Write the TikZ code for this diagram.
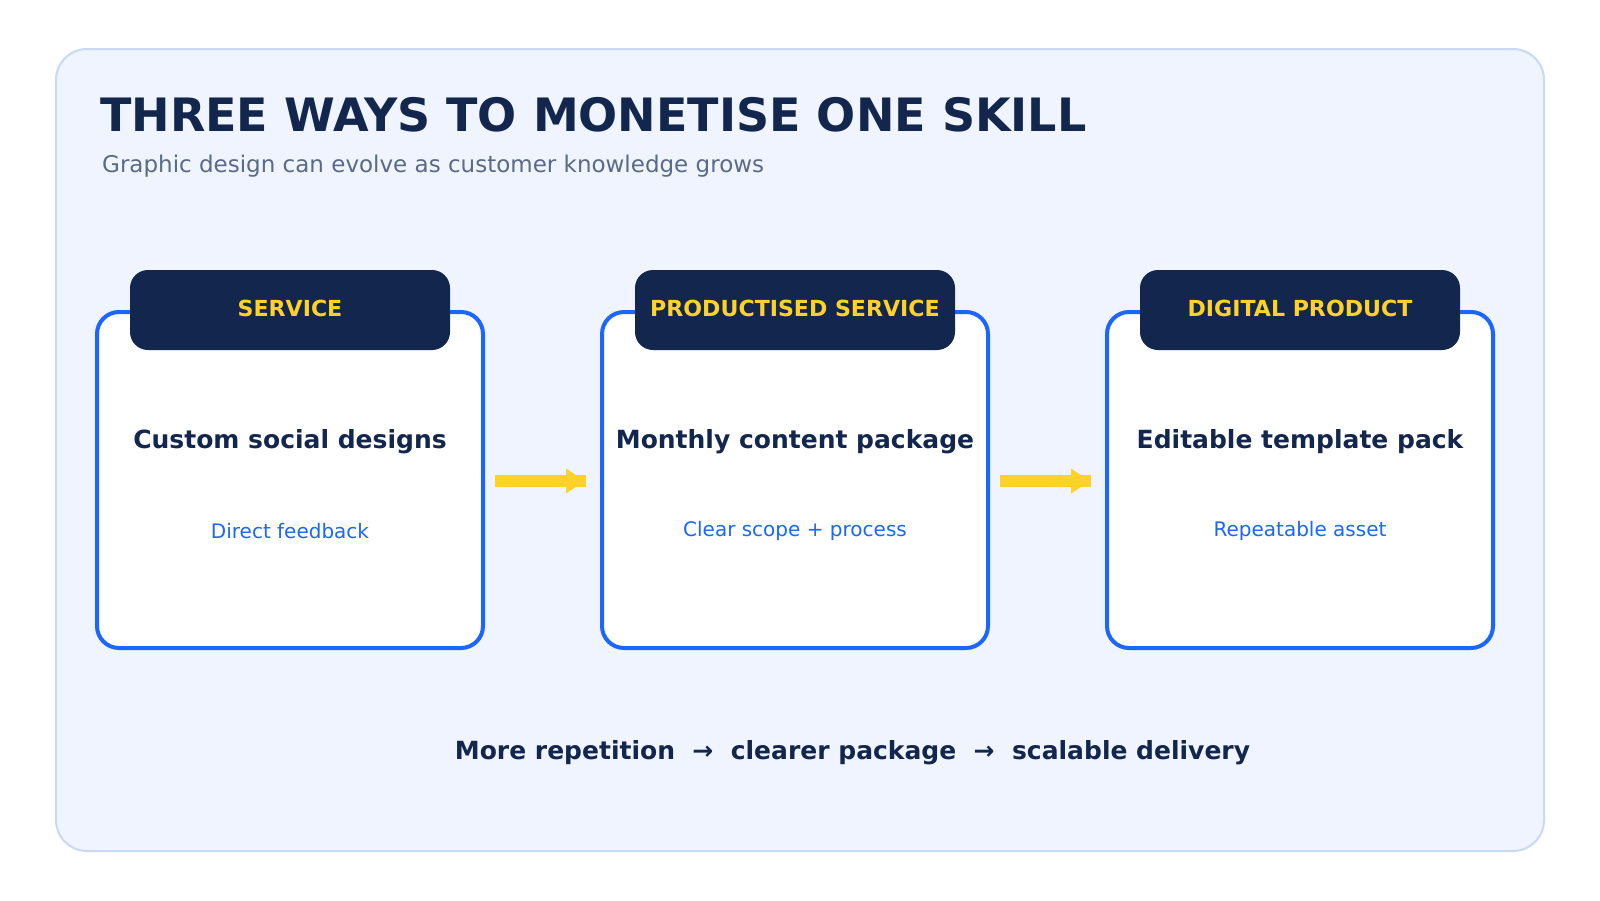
\documentclass[tikz,border=0pt]{standalone}
\usepackage{fontspec}
\setmainfont{DejaVu Sans}
\usetikzlibrary{arrows.meta}
\definecolor{navy}{RGB}{19,38,77}
\definecolor{gold}{RGB}{255,210,40}
\definecolor{cardblue}{RGB}{26,102,255}
\definecolor{panelfill}{RGB}{239,244,255}
\definecolor{panelline}{RGB}{200,216,245}
\definecolor{subgray}{RGB}{90,106,135}
\tikzset{
  cardbox/.style={draw=cardblue, line width=4pt, fill=white, rounded corners=22pt,
    minimum width=386pt, minimum height=336pt, outer sep=0pt, inner sep=0pt},
  headbox/.style={fill=navy, rounded corners=18pt, minimum width=320pt, minimum height=80pt,
    outer sep=0pt, inner sep=0pt},
  headtext/.style={anchor=base, text=gold, font=\fontsize{22.1}{27}\selectfont\bfseries, inner sep=0pt},
  cardtitle/.style={anchor=base, text=navy, font=\fontsize{25}{30}\selectfont\bfseries, inner sep=0pt},
  cardnote/.style={anchor=base, text=cardblue, font=\fontsize{20}{24}\selectfont, inner sep=0pt},
  flowshaft/.style={draw=gold, line width=12pt},
  flowhead/.style={fill=gold},
}
\begin{document}
\begin{tikzpicture}[x=1pt,y=-1pt]
\useasboundingbox (0,0) rectangle (1600,900);
\fill[white] (0,0) rectangle (1600,900);
\draw[panelline, fill=panelfill, line width=2pt, rounded corners=31pt] (56,49) rectangle (1544,851);
\node[anchor=base west, inner sep=0pt, text=navy, font=\fontsize{46}{55}\selectfont\bfseries] (title) at (100,131.5) {THREE WAYS TO MONETISE ONE SKILL};
\node[anchor=base west, inner sep=0pt, text=subgray, font=\fontsize{23}{28}\selectfont] (subtitle) at (102,172) {Graphic design can evolve as customer knowledge grows};

\foreach \i/\cx/\h/\t/\n/\b in {1/290/SERVICE/Custom social designs/Direct feedback/538,
  2/795/PRODUCTISED SERVICE/Monthly content package/Clear scope + process/536,
  3/1300/DIGITAL PRODUCT/Editable template pack/Repeatable asset/536}{
  \node[cardbox] (card\i) at (\cx,480) {};
  \node[headbox] (head\i) at (\cx,310) {};
  \node[headtext] (headlabel\i) at (\cx,316) {\h};
  \node[cardtitle] (ctitle\i) at (\cx,448) {\t};
  \node[cardnote] (cnote\i) at (\cx,\b) {\n};
}

\foreach \a/\b in {1/2,2/3}{
  \draw[flowshaft] ([xshift=12pt,yshift=-1pt]card\a.east) -- ([xshift=-16pt,yshift=-1pt]card\b.west);
  \fill[flowhead] ([xshift=-36pt,yshift=-13.5pt]card\b.west) -- ([xshift=-17pt,yshift=-1pt]card\b.west) -- ([xshift=-36pt,yshift=11.5pt]card\b.west) -- cycle;
}

\node[anchor=base, inner sep=0pt, text=navy, font=\fontsize{25}{30}\selectfont\bfseries] (footer) at (852.5,759) {More repetition\ \ →\ \ clearer package\ \ →\ \ scalable delivery};
\end{tikzpicture}
\end{document}
